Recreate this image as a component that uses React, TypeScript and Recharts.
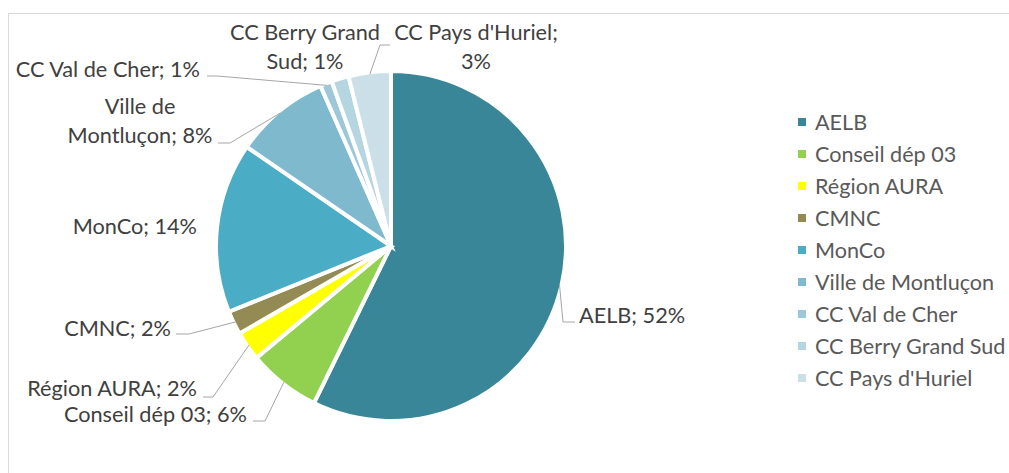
import { PieChart, Pie, Cell, Legend } from 'recharts';

// funders, in the order Excel draws them (clockwise from 12 o'clock)
const categories = [
  'AELB',
  'Conseil dép 03',
  'Région AURA',
  'CMNC',
  'MonCo',
  'Ville de Montluçon',
  'CC Val de Cher',
  'CC Berry Grand Sud',
  "CC Pays d'Huriel",
];
// slice sizes
const shares = [57.2, 6.7, 2.7, 2.2, 15.7, 8.8, 1.1, 1.6, 3.9];
// percentages as printed in the data labels
const shownPct = [52, 6, 2, 2, 14, 8, 1, 1, 3];

const COLORS = [
  '#3A8699', '#92D050', '#FFFF00', '#948A54', '#4BACC6',
  '#7EB9CE', '#9CC8D8', '#B5D5E1', '#CBDFE8',
];

const FONT = 'Lato, Carlito, Calibri, sans-serif';
const CX = 391;
const CY = 246;
const OUTER = 175;
const EDGE = 173; // visible edge once the white stroke is drawn

// label placement: text anchor point, how many words on the first line,
// and the elbow/end of the leader line (none = no leader)
const LABEL_LAYOUT: {
  x: number; y: number; anchor: 'start' | 'middle' | 'end'; wrap?: number;
  leader?: [number, number, number, number];
}[] = [
  { x: 579, y: 315, anchor: 'start', leader: [563, 322, 575, 322] },
  { x: 247, y: 414, anchor: 'end', leader: [265, 421, 253, 421] },
  { x: 197, y: 388, anchor: 'end', leader: [213, 397, 203, 397] },
  { x: 171, y: 328, anchor: 'end', leader: [189, 334, 176, 334] },
  { x: 197, y: 226, anchor: 'end' },
  { x: 140, y: 106, anchor: 'middle', wrap: 2, leader: [230, 143, 218, 143] },
  { x: 200, y: 69, anchor: 'end', leader: [217, 76, 207, 76] },
  { x: 305, y: 32, anchor: 'middle', wrap: 3 },
  { x: 476, y: 32, anchor: 'middle', wrap: 3, leader: [380, 45, 390, 45] },
];

const data = categories.map((name, i) => ({ name, value: shares[i], pct: shownPct[i] }));

const renderLabel = (props: any) => {
  const { cx, cy, midAngle, index } = props;
  const lay = LABEL_LAYOUT[index];
  const d = data[index];
  const text = `${d.name}; ${d.pct}%`;
  let lines = [text];
  if (lay.wrap) {
    const words = text.split(' ');
    lines = [words.slice(0, lay.wrap).join(' '), words.slice(lay.wrap).join(' ')];
  }
  const rad = Math.PI / 180;
  const sx = cx + EDGE * Math.cos(-midAngle * rad);
  const sy = cy + EDGE * Math.sin(-midAngle * rad);
  return (
    <g key={`lbl-${index}`}>
      {lay.leader && (
        <polyline
          points={`${sx},${sy} ${lay.leader[0]},${lay.leader[1]} ${lay.leader[2]},${lay.leader[3]}`}
          fill="none"
          stroke="#A6A6A6"
          strokeWidth={1}
        />
      )}
      <text
        x={lay.x}
        y={lay.y}
        textAnchor={lay.anchor}
        dominantBaseline="central"
        fill="#404040"
        style={{ fontFamily: FONT, fontSize: 21.7 }}
      >
        {lines.map((ln, k) => (
          <tspan key={k} x={lay.x} dy={k === 0 ? 0 : 29}>{ln}</tspan>
        ))}
      </text>
    </g>
  );
};

// keep the legend in data order (recharts sorts it by name otherwise)
const renderLegend = (props: any) => {
  const payload: any[] = props.payload || [];
  const rows = categories.map((name, i) => {
    const hit = payload.find((p) => p.value === name);
    return { name, color: hit ? hit.color : COLORS[i] };
  });
  return (
    <div style={{ fontFamily: FONT, fontSize: 21.6, color: '#595959' }}>
      {rows.map((r) => (
        <div key={r.name} style={{ height: 32, display: 'flex', alignItems: 'center', whiteSpace: 'nowrap' }}>
          <span style={{ width: 8, height: 8, background: r.color, marginRight: 9, flexShrink: 0 }} />
          <span>{r.name}</span>
        </div>
      ))}
    </div>
  );
};

export default function App() {
  return (
    <div style={{ position: 'fixed', left: 0, top: 0, width: 1009, height: 473, overflow: 'hidden', background: '#fff' }}>
      <div
        style={{
          position: 'absolute', left: 8, top: 13, width: 1020, height: 480,
          border: '1px solid #D9D9D9', boxSizing: 'border-box',
        }}
      />
      <div style={{ position: 'absolute', left: 0, top: 0 }}>
        <PieChart width={1009} height={473} margin={{ top: 0, right: 0, bottom: 0, left: 0 }}>
          <Pie
            data={data}
            dataKey="value"
            nameKey="name"
            cx={CX}
            cy={CY}
            outerRadius={OUTER}
            startAngle={90}
            endAngle={-270}
            stroke="#fff"
            strokeWidth={4}
            label={renderLabel}
            labelLine={false}
            isAnimationActive={false}
          >
            {data.map((d, i) => (
              <Cell key={d.name} fill={COLORS[i]} />
            ))}
          </Pie>
          <Legend
            layout="vertical"
            align="right"
            verticalAlign="top"
            content={renderLegend}
            wrapperStyle={{ position: 'absolute', left: 798, top: 106, width: 211 }}
          />
        </PieChart>
      </div>
    </div>
  );
}
